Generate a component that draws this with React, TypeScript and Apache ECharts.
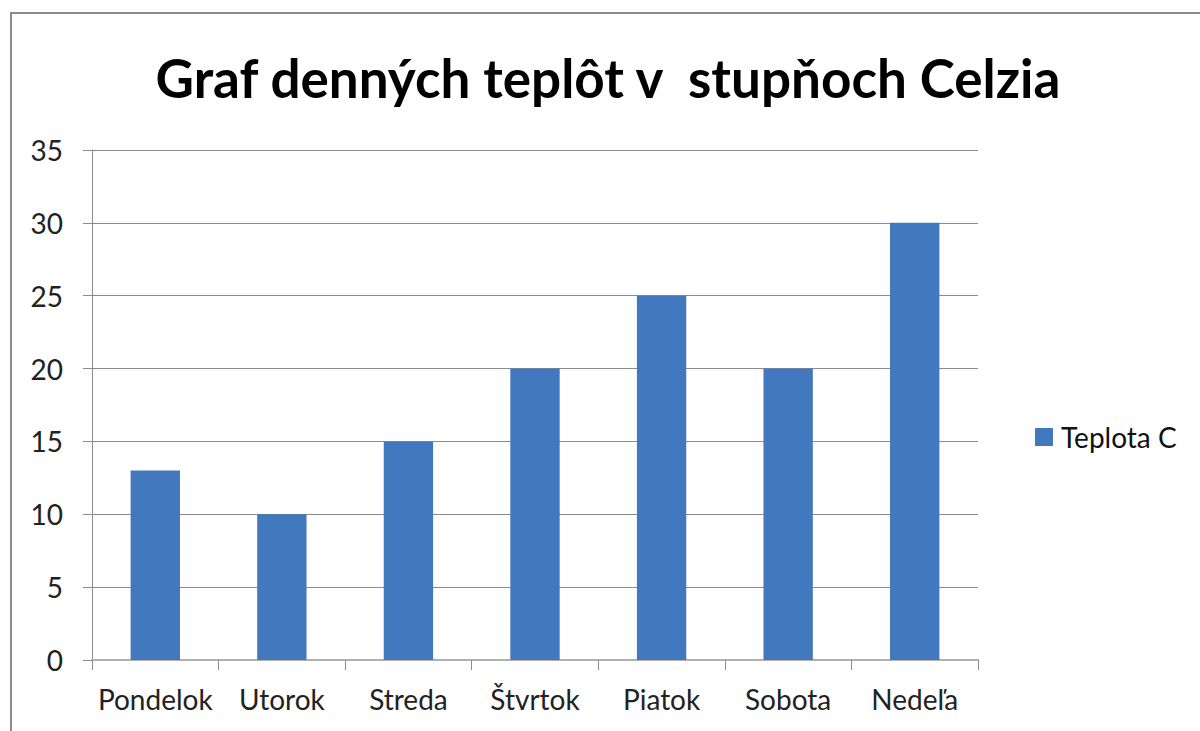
import React, { useEffect, useRef } from "react";
import * as echarts from "echarts";

const titleText = "Graf denných teplôt v  stupňoch Celzia";
const categories = ["Pondelok", "Utorok", "Streda", "Štvrtok", "Piatok", "Sobota", "Nedeľa"];
const seriesName = "Teplota C";
const values = [13, 10, 15, 20, 25, 20, 30];

const FONT = "Lato, 'Open Sans', sans-serif";

export default function App() {
  const ref = useRef<HTMLDivElement>(null);
  useEffect(() => {
    if (!ref.current) return;
    const chart = echarts.init(ref.current, undefined, { renderer: "svg" });
    chart.setOption({
      animation: false,
      backgroundColor: "#ffffff",
      textStyle: { fontFamily: FONT },
      graphic: [
        {
          type: "rect",
          shape: { x: 11, y: 13, width: 1210, height: 740 },
          style: { fill: "none", stroke: "#8c8c8c", lineWidth: 2 },
          silent: true,
        },
        {
          type: "text",
          x: 608,
          y: 77,
          style: {
            text: titleText,
            fontFamily: FONT,
            fontWeight: "bold",
            fontSize: 53,
            fill: "#000000",
            textAlign: "center",
            textVerticalAlign: "middle",
          },
        },
      ],
      legend: {
        left: 1030,
        top: 418,
        orient: "vertical",
        icon: "rect",
        itemWidth: 18,
        itemHeight: 18,
        textStyle: { fontSize: 28, color: "#111", fontFamily: FONT, padding: [0, 0, 0, 3] },
        data: [seriesName],
      },
      grid: { left: 92, right: 222, top: 150, bottom: 71, containLabel: false },
      xAxis: {
        type: "category",
        data: categories,
        axisLine: { show: true, lineStyle: { color: "#b0b0b0", width: 2 } },
        axisTick: { show: true, length: 10, alignWithLabel: false, lineStyle: { color: "#8c8c8c" } },
        axisLabel: { fontSize: 28, color: "#222", margin: 25, fontFamily: FONT, interval: 0 },
        splitLine: { show: false },
      },
      yAxis: {
        type: "value",
        min: 0,
        max: 35,
        interval: 5,
        axisLine: { show: true, lineStyle: { color: "#8c8c8c", width: 1 } },
        axisTick: { show: true, length: 9, lineStyle: { color: "#8c8c8c" } },
        axisLabel: { fontSize: 28, color: "#222", margin: 29, fontFamily: FONT },
        splitLine: { show: true, lineStyle: { color: "#8c8c8c", width: 1 } },
      },
      series: [
        {
          name: seriesName,
          type: "bar",
          data: values,
          barWidth: "39%",
          itemStyle: { color: "#4178be" },
        },
      ],
    });
    return () => chart.dispose();
  }, []);
  return (
    <div
      ref={ref}
      style={{ position: "fixed", left: 0, top: 0, width: 1200, height: 731 }}
    />
  );
}
